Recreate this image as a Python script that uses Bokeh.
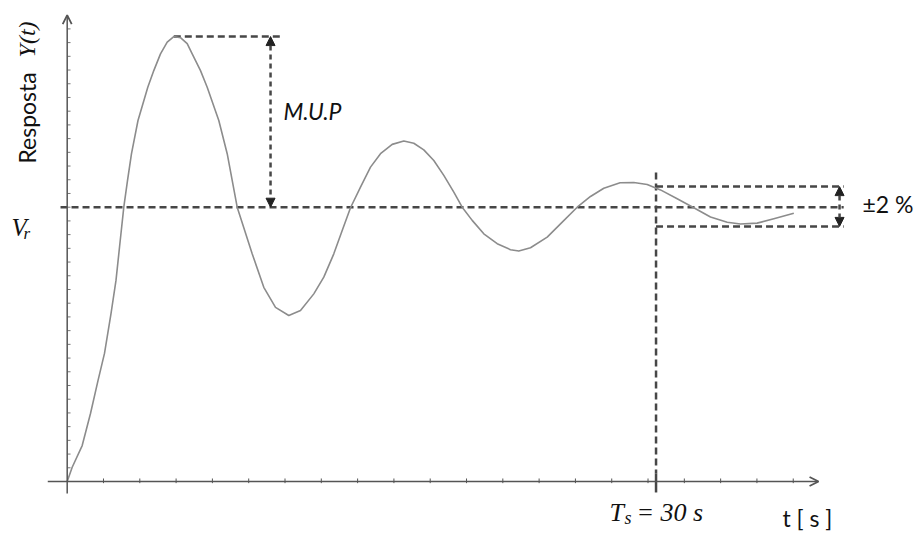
import math
from bokeh.plotting import figure
from bokeh.models import Range1d, Label, Arrow, OpenHead, NormalHead
from bokeh.embed import file_html
from bokeh.resources import INLINE

# ---- data (t in seconds, response relative to Vr = 1) ----
t_vals = [0.0, 0.255, 0.764, 1.187, 1.569, 1.900, 2.232, 2.486, 2.665, 2.884,
          3.072, 3.276, 3.607, 4.106, 4.412, 4.753, 5.095, 5.431, 5.772, 6.114,
          6.369, 6.792, 7.133, 7.724, 8.152, 8.661, 9.425, 10.016, 10.613, 11.290,
          11.886, 12.564, 13.073, 13.583, 14.011, 14.434, 14.943, 15.453, 15.962, 16.558,
          17.149, 17.659, 18.168, 18.678, 19.187, 19.697, 20.124, 20.634, 21.225, 21.908,
          22.585, 23.008, 23.604, 24.455, 25.132, 25.983, 26.661, 27.339, 28.169, 28.867,
          29.550, 30.227, 31.078, 31.924, 32.775, 33.626, 34.303, 35.154, 36.000, 37.019]
y_vals = [0.0, 0.052, 0.131, 0.248, 0.368, 0.467, 0.612, 0.733, 0.854, 1.000,
          1.097, 1.195, 1.316, 1.437, 1.498, 1.559, 1.602, 1.622, 1.618, 1.596,
          1.559, 1.498, 1.437, 1.316, 1.195, 1.000, 0.830, 0.708, 0.635, 0.605,
          0.623, 0.684, 0.745, 0.830, 0.915, 0.998, 1.073, 1.146, 1.195, 1.229,
          1.241, 1.233, 1.209, 1.170, 1.116, 1.055, 1.000, 0.952, 0.903, 0.867,
          0.845, 0.840, 0.852, 0.891, 0.939, 1.000, 1.039, 1.069, 1.089, 1.090,
          1.083, 1.063, 1.031, 0.998, 0.964, 0.945, 0.939, 0.942, 0.958, 0.978]

VR = 1.0            # reference value
TS = 30.0           # settling time [s]
PEAK_T = 5.431      # time of first peak
PEAK_Y = 1.622      # first peak value
BAND_HI = 1.075     # +2 % band (as drawn)
BAND_LO = 0.930     # -2 % band (as drawn)
T_END_AXIS = 38.28
Y_END_AXIS = 1.70
x_tick_vals = [1.8495 * i for i in range(1, 21)]
y_tick_vals = [0.05 * i for i in range(1, 34)]

DASH = "#474747"
AXC = "#555555"

p = figure(width=916, height=534, title=None, toolbar_location=None,
           output_backend="svg", x_axis_type=None, y_axis_type=None,
           x_range=Range1d(-3.398, 43.27), y_range=Range1d(-0.1932, 1.7535),
           min_border=0)
p.outline_line_color = None
p.background_fill_color = "white"
p.border_fill_color = "white"

# axes
p.add_layout(Arrow(end=OpenHead(size=9, line_color=AXC, line_width=1.8),
                   x_start=-0.99, y_start=0, x_end=T_END_AXIS, y_end=0,
                   line_color=AXC, line_width=1.5))
p.add_layout(Arrow(end=OpenHead(size=9, line_color=AXC, line_width=1.8),
                   x_start=0, y_start=-0.044, x_end=0, y_end=Y_END_AXIS,
                   line_color=AXC, line_width=1.5))
p.segment(x0=x_tick_vals, y0=[-0.006] * len(x_tick_vals), x1=x_tick_vals,
          y1=[0.011] * len(x_tick_vals), line_color=AXC, line_width=1)
p.segment(x0=[0] * len(y_tick_vals), y0=y_tick_vals, x1=[0.17] * len(y_tick_vals),
          y1=y_tick_vals, line_color="#777777", line_width=1)

# dashed guides
p.line([-0.34, 39.56], [VR, VR], line_color=DASH, line_width=2.5, line_dash="7 4")
p.line([PEAK_T, 10.97], [PEAK_Y, PEAK_Y], line_color=DASH, line_width=2.5, line_dash="7 4")
p.line([TS, 39.56], [BAND_HI, BAND_HI], line_color=DASH, line_width=2.5, line_dash="7 4")
p.line([TS, 39.56], [BAND_LO, BAND_LO], line_color=DASH, line_width=2.5, line_dash="7 4")
p.line([TS, TS], [1.1265, 0.03], line_color=DASH, line_width=2.5, line_dash="7 4")
p.line([TS, TS], [0.03, -0.04], line_color=DASH, line_width=2.5)

# double arrows
for xa, y0, y1 in [(10.36, PEAK_Y, VR), (39.35, BAND_HI, BAND_LO)]:
    p.add_layout(Arrow(start=NormalHead(size=9, fill_color="#222", line_color="#222", line_width=1),
                       end=NormalHead(size=9, fill_color="#222", line_color="#222", line_width=1),
                       x_start=xa, y_start=y0, x_end=xa, y_end=y1,
                       line_color=DASH, line_width=2.5, line_dash="5 4"))

# response curve
p.line(t_vals, y_vals, line_color="#8c8c8c", line_width=1.6, line_join="round")

# texts
def lab(x, y, text, font, size, style="normal", angle=0.0):
    p.add_layout(Label(x=x, y=y, text=text, text_font=font, text_font_size=size,
                       text_font_style=style, text_color="#111111", angle=angle,
                       text_baseline="alphabetic", text_align="left"))

lab(-2.07, VR + 0.159, "Resposta", "Lato", "23px", angle=math.pi / 2)
lab(-2.07, VR + 0.546, "Y(t)", "Liberation Serif", "24px", "italic", angle=math.pi / 2)
lab(-2.84, VR - 0.074, "V", "Liberation Serif", "25px", "italic")
lab(-2.23, VR - 0.096, "r", "Liberation Serif", "17px", "italic")
lab(11.02, 1.349, "M.U.P", "Lato", "23px", "italic")
lab(40.52, VR + 0.010, "±2 %", "Lato", "23px")
lab(27.63, -0.113, "T", "Liberation Serif", "26px", "italic")
lab(28.39, -0.1347, "s", "Liberation Serif", "18px", "italic")
lab(29.0, -0.113, "= 30 s", "Liberation Serif", "26px", "italic")
lab(36.44, -0.1347, "t [ s ]", "Lato", "23px")

open("out.html", "w").write(file_html(p, INLINE))
